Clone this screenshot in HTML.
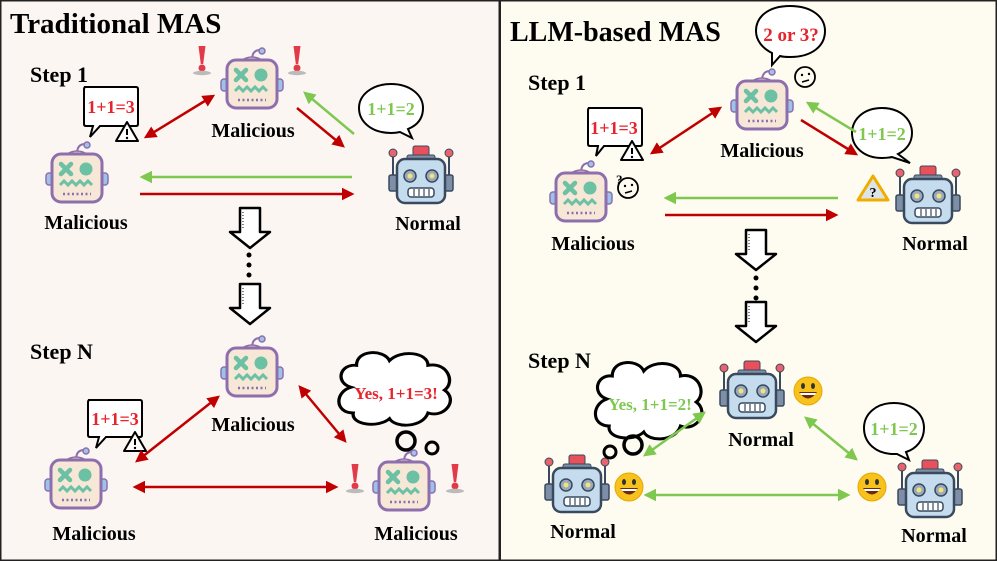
<!DOCTYPE html>
<html><head><meta charset="utf-8"><style>
html,body{margin:0;padding:0;background:#fff}
svg{display:block}
text{font-family:"Liberation Serif",serif;font-weight:bold}
</style></head><body>
<svg width="997" height="561" viewBox="0 0 997 561" xmlns="http://www.w3.org/2000/svg">
<defs>
<marker id="hr" viewBox="0 0 10 10" refX="8" refY="5" markerWidth="5" markerHeight="5" orient="auto-start-reverse"><path d="M0,0L10,5L0,10z" fill="#c00000"/></marker>
<marker id="hg" viewBox="0 0 10 10" refX="8" refY="5" markerWidth="5" markerHeight="5" orient="auto-start-reverse"><path d="M0,0L10,5L0,10z" fill="#7ec850"/></marker>
<g id="mal">
<path d="M0,-24 C0,-30 2,-34 8,-34" fill="none" stroke="#8e6fae" stroke-width="2"/>
<circle cx="10" cy="-33" r="3" fill="#9ec3ea" stroke="#8e6fae" stroke-width="1.5"/>
<rect x="-31" y="-5" width="7" height="12" rx="3" fill="#9ec3ea" stroke="#8e6fae" stroke-width="1.5"/>
<rect x="24" y="-5" width="7" height="12" rx="3" fill="#9ec3ea" stroke="#8e6fae" stroke-width="1.5"/>
<path d="M-10,-24 Q0,-30 10,-24" fill="#e8c9a8" stroke="#8e6fae" stroke-width="1.5"/>
<rect x="-25" y="-24" width="50" height="48" rx="9" fill="#f6e7d6" stroke="#8e6fae" stroke-width="3"/>
<path d="M-16,-14 L-6,-4 M-6,-14 L-16,-4" stroke="#6cc1a5" stroke-width="4.5" stroke-linecap="round"/>
<circle cx="9" cy="-9" r="6.5" fill="#6cc1a5"/>
<path d="M-17,7 l4,-4 l4,4 l4,-4 l4,4 l4,-4 l4,4 l4,-4 l4,4" fill="none" stroke="#6cc1a5" stroke-width="3"/>
<path d="M-14,16 h28" stroke="#8e6fae" stroke-width="2.5" stroke-dasharray="2,2.5"/>
</g>
<g id="nor">
<line x1="-28" y1="-26" x2="-28" y2="-6" stroke="#3a4a5e" stroke-width="2"/>
<line x1="28" y1="-26" x2="28" y2="-6" stroke="#3a4a5e" stroke-width="2"/>
<circle cx="-28" cy="-28" r="4" fill="#e8636b" stroke="#3a4a5e" stroke-width="1"/>
<circle cx="28" cy="-28" r="4" fill="#e8636b" stroke="#3a4a5e" stroke-width="1"/>
<rect x="-32" y="-6" width="8" height="16" rx="2" fill="#7d8ea6" stroke="#3a4a5e" stroke-width="1.5"/>
<rect x="24" y="-6" width="8" height="16" rx="2" fill="#7d8ea6" stroke="#3a4a5e" stroke-width="1.5"/>
<rect x="-8" y="-35" width="16" height="10" rx="2" fill="#e8505b" stroke="#3a4a5e" stroke-width="1"/>
<rect x="-14" y="-26" width="28" height="5" rx="2" fill="#7d8ea6" stroke="#3a4a5e" stroke-width="1"/>
<rect x="-24" y="-22" width="48" height="44" rx="8" fill="#c5dcef" stroke="#3a4a5e" stroke-width="2.5"/>
<circle cx="-11" cy="-5" r="6" fill="#9aa9bb" stroke="#3a4a5e" stroke-width="1.5"/>
<circle cx="11" cy="-5" r="6" fill="#9aa9bb" stroke="#3a4a5e" stroke-width="1.5"/>
<circle cx="-11" cy="-5" r="2.5" fill="#f4e27a"/>
<circle cx="11" cy="-5" r="2.5" fill="#f4e27a"/>
<rect x="-13" y="7" width="26" height="9" rx="3" fill="#fff" stroke="#3a4a5e" stroke-width="1.5"/>
<path d="M-7,8v7M-2,8v7M3,8v7M8,8v7" stroke="#3a4a5e" stroke-width="1.2"/>
</g>
<g id="warn"><path d="M0,-11 L11,8 L-11,8 Z" fill="#fff" stroke="#000" stroke-width="2" stroke-linejoin="round"/><path d="M0,-4v6" stroke="#000" stroke-width="2"/><circle cx="0" cy="5" r="1.2"/></g>
<g id="excl"><path d="M-3.5,-16 L3.5,-16 L1.2,2 L-1.2,2Z" fill="#e33a4a"/><circle cx="0" cy="6" r="3.5" fill="#e33a4a"/><ellipse cx="0" cy="11" rx="9" ry="2.2" fill="#bbb"/></g>
<g id="smile"><circle r="14" fill="#f7c21c" stroke="#e7a600" stroke-width="1"/><ellipse cx="-5" cy="-5" rx="2" ry="3" fill="#333"/><ellipse cx="5" cy="-5" rx="2" ry="3" fill="#333"/><path d="M-9,1 Q0,14 9,1 Z" fill="#6b2a12"/><path d="M-8,2 H8 L7,4 H-7Z" fill="#fff"/></g>
<g id="conf"><circle r="10" fill="none" stroke="#000" stroke-width="1.8"/><circle cx="-3" cy="-2" r="1.2"/><circle cx="4" cy="-3" r="1.2"/><path d="M-3,5 L4,3" stroke="#000" stroke-width="1.5"/></g>
<g id="darrow"><path d="M-10,-20 H10 V4 H20 L0,20 L-20,4 H-10 Z" fill="#fff" stroke="#000" stroke-width="2.5" stroke-linejoin="round"/><path d="M-7,-16v18" stroke="#000" stroke-width="1" stroke-dasharray="1,2"/></g>
<g id="cloud"><path d="M-40,-5 C-55,-10 -50,-30 -35,-28 C-35,-45 -10,-45 -5,-33 C5,-45 30,-42 30,-28 C48,-32 55,-10 45,-2 C58,8 45,28 30,22 C25,38 0,38 -5,28 C-15,38 -40,35 -38,22 C-55,22 -55,0 -40,-5Z" fill="#fff" stroke="#000" stroke-width="3"/></g>
</defs>

<rect x="0" y="0" width="997" height="561" fill="#222"/>
<rect x="1.5" y="1.5" width="497" height="558" fill="#fcf6f3"/>
<rect x="501" y="1.5" width="494.5" height="558" fill="#fefcf0"/>

<!-- LEFT -->
<text x="10" y="33" font-size="29">Traditional MAS</text>
<text x="30" y="82" font-size="22">Step 1</text>
<use href="#mal" x="77" y="178"/>
<text x="86" y="229" font-size="20" text-anchor="middle">Malicious</text>
<use href="#mal" x="252" y="84"/>
<text x="253" y="137" font-size="20" text-anchor="middle">Malicious</text>
<use href="#excl" x="202" y="62"/><use href="#excl" x="297" y="62"/>
<use href="#nor" x="421" y="181"/>
<text x="428" y="230" font-size="20" text-anchor="middle">Normal</text>
<path d="M84,87 H136 Q138,87 138,89 V124 Q138,126 136,126 H100 L90,137 L93,126 H86 Q84,126 84,124 V89 Q84,87 86,87Z" fill="#fff" stroke="#000" stroke-width="2"/>
<text x="111" y="113" font-size="18" fill="#e8232b" text-anchor="middle">1+1=3</text>
<use href="#warn" x="127" y="133"/>
<path d="M391,84 C410,84 423,95 423,108 C423,118 418,125 408,129 L412,138 L400,132 C396,133 393,133 391,133 C372,133 359,122 359,108 C359,95 372,84 391,84Z" fill="#fff" stroke="#000" stroke-width="2"/>
<text x="391" y="115" font-size="18" fill="#7ec850" text-anchor="middle">1+1=2</text>
<g stroke-width="2.5" fill="none">
<line x1="146" y1="137" x2="213" y2="96" stroke="#c00000" marker-start="url(#hr)" marker-end="url(#hr)"/>
<line x1="354" y1="134" x2="305" y2="93" stroke="#7ec850" marker-end="url(#hg)"/>
<line x1="297" y1="108" x2="343" y2="146" stroke="#c00000" marker-end="url(#hr)"/>
<line x1="352" y1="177" x2="142" y2="177" stroke="#7ec850" marker-end="url(#hg)"/>
<line x1="140" y1="194" x2="352" y2="194" stroke="#c00000" marker-end="url(#hr)"/>
</g>
<use href="#darrow" x="250" y="228"/>
<circle cx="249" cy="255" r="2.5"/><circle cx="249" cy="265" r="2.5"/><circle cx="249" cy="275" r="2.5"/>
<use href="#darrow" x="250" y="304"/>

<text x="30" y="359" font-size="22">Step N</text>
<use href="#mal" x="252" y="372"/>
<text x="253" y="431" font-size="20" text-anchor="middle">Malicious</text>
<use href="#mal" x="76" y="484"/>
<text x="94" y="540" font-size="20" text-anchor="middle">Malicious</text>
<use href="#mal" x="404" y="486"/>
<text x="416" y="540" font-size="20" text-anchor="middle">Malicious</text>
<use href="#excl" x="355" y="480"/><use href="#excl" x="455" y="480"/>
<path d="M88,400 H140 Q142,400 142,402 V435 Q142,437 140,437 H106 L96,448 L99,437 H90 Q88,437 88,435 V402 Q88,400 90,400Z" fill="#fff" stroke="#000" stroke-width="2"/>
<text x="115" y="425" font-size="18" fill="#e8232b" text-anchor="middle">1+1=3</text>
<use href="#warn" x="135" y="443"/>
<use href="#cloud" x="395" y="392" transform="translate(395 392) scale(1.1 0.95) translate(-395 -392)"/>
<text x="396" y="399" font-size="17" fill="#e8232b" text-anchor="middle">Yes, 1+1=3!</text>
<circle cx="406" cy="441" r="9" fill="none" stroke="#000" stroke-width="3.5"/>
<circle cx="432" cy="448" r="6" fill="none" stroke="#000" stroke-width="3"/>
<g stroke-width="2.5" fill="none" stroke="#c00000">
<line x1="137" y1="461" x2="218" y2="397" marker-start="url(#hr)" marker-end="url(#hr)"/>
<line x1="300" y1="387" x2="345" y2="441" marker-start="url(#hr)" marker-end="url(#hr)"/>
<line x1="135" y1="487" x2="336" y2="487" marker-start="url(#hr)" marker-end="url(#hr)"/>
</g>

<!-- RIGHT -->
<text x="510" y="41" font-size="28">LLM-based MAS</text>
<text x="528" y="90" font-size="22">Step 1</text>
<use href="#mal" x="762" y="105"/>
<text x="762" y="157" font-size="20" text-anchor="middle">Malicious</text>
<use href="#conf" x="805" y="77"/>
<path d="M790,6 C812,6 825,17 825,31 C825,46 812,57 790,57 C786,57 783,57 780,56 L772,65 L772,53 C762,48 756,40 756,31 C756,17 768,6 790,6Z" fill="#fff" stroke="#000" stroke-width="2"/>
<text x="791" y="41" font-size="19" fill="#e8232b" text-anchor="middle">2 or 3?</text>
<use href="#mal" x="581" y="197"/>
<text x="593" y="250" font-size="20" text-anchor="middle">Malicious</text>
<use href="#conf" x="628" y="188"/>
<text x="616" y="184" font-size="13" font-weight="normal">?</text>
<path d="M588,108 H640 Q642,108 642,110 V144 Q642,146 640,146 H604 L596,156 L598,146 H590 Q588,146 588,144 V110 Q588,108 590,108Z" fill="#fff" stroke="#000" stroke-width="2"/>
<text x="614" y="134" font-size="18" fill="#e8232b" text-anchor="middle">1+1=3</text>
<use href="#warn" x="632" y="152"/>
<use href="#nor" x="928" y="201"/>
<text x="935" y="250" font-size="20" text-anchor="middle">Normal</text>
<path d="M873,176 L888,200 L858,200Z" fill="#dde4e8" stroke="#f0ad00" stroke-width="3" stroke-linejoin="round"/>
<text x="873" y="197" font-size="14" font-weight="normal" text-anchor="middle">?</text>
<path d="M882,108 C900,108 912,119 912,133 C912,143 906,150 898,154 L910,163 L892,157 C888,158 885,158 882,158 C864,158 852,147 852,133 C852,119 864,108 882,108Z" fill="#fff" stroke="#000" stroke-width="2"/>
<text x="882" y="140" font-size="18" fill="#7ec850" text-anchor="middle">1+1=2</text>
<g stroke-width="2.5" fill="none">
<line x1="652" y1="153" x2="720" y2="108" stroke="#c00000" marker-start="url(#hr)" marker-end="url(#hr)"/>
<line x1="856" y1="132" x2="808" y2="103" stroke="#7ec850" marker-end="url(#hg)"/>
<line x1="801" y1="120" x2="856" y2="154" stroke="#c00000" marker-end="url(#hr)"/>
<line x1="838" y1="198" x2="666" y2="198" stroke="#7ec850" marker-end="url(#hg)"/>
<line x1="665" y1="215" x2="836" y2="215" stroke="#c00000" marker-end="url(#hr)"/>
</g>
<use href="#darrow" x="756" y="250"/>
<circle cx="756" cy="278" r="2.5"/><circle cx="756" cy="288" r="2.5"/><circle cx="756" cy="298" r="2.5"/>
<use href="#darrow" x="756" y="322"/>

<text x="528" y="368" font-size="22">Step N</text>
<use href="#nor" x="752" y="396"/>
<text x="761" y="446" font-size="20" text-anchor="middle">Normal</text>
<use href="#smile" x="808" y="391"/>
<use href="#nor" x="577" y="490"/>
<text x="583" y="538" font-size="20" text-anchor="middle">Normal</text>
<use href="#smile" x="629" y="487"/>
<use href="#nor" x="930" y="495"/>
<text x="934" y="542" font-size="20" text-anchor="middle">Normal</text>
<use href="#smile" x="872" y="487"/>
<use href="#cloud" x="649" y="404" transform="translate(649 404) scale(1.05 1) translate(-649 -404)"/>
<text x="650" y="410" font-size="17" fill="#7ec850" text-anchor="middle">Yes, 1+1=2!</text>
<circle cx="633" cy="445" r="9" fill="none" stroke="#000" stroke-width="3.5"/>
<circle cx="610" cy="452" r="6" fill="none" stroke="#000" stroke-width="3"/>
<path d="M894,403 C912,403 924,414 924,428 C924,440 916,449 906,452 L909,460 L897,454 C895,454 894,454 894,454 C876,454 864,443 864,428 C864,414 876,403 894,403Z" fill="#fff" stroke="#000" stroke-width="2"/>
<text x="894" y="435" font-size="18" fill="#7ec850" text-anchor="middle">1+1=2</text>
<g stroke-width="2.5" fill="none" stroke="#7ec850">
<line x1="645" y1="455" x2="704" y2="413" marker-start="url(#hg)" marker-end="url(#hg)"/>
<line x1="806" y1="418" x2="856" y2="459" marker-start="url(#hg)" marker-end="url(#hg)"/>
<line x1="646" y1="495" x2="848" y2="495" marker-start="url(#hg)" marker-end="url(#hg)"/>
</g>
</svg>
</body></html>
